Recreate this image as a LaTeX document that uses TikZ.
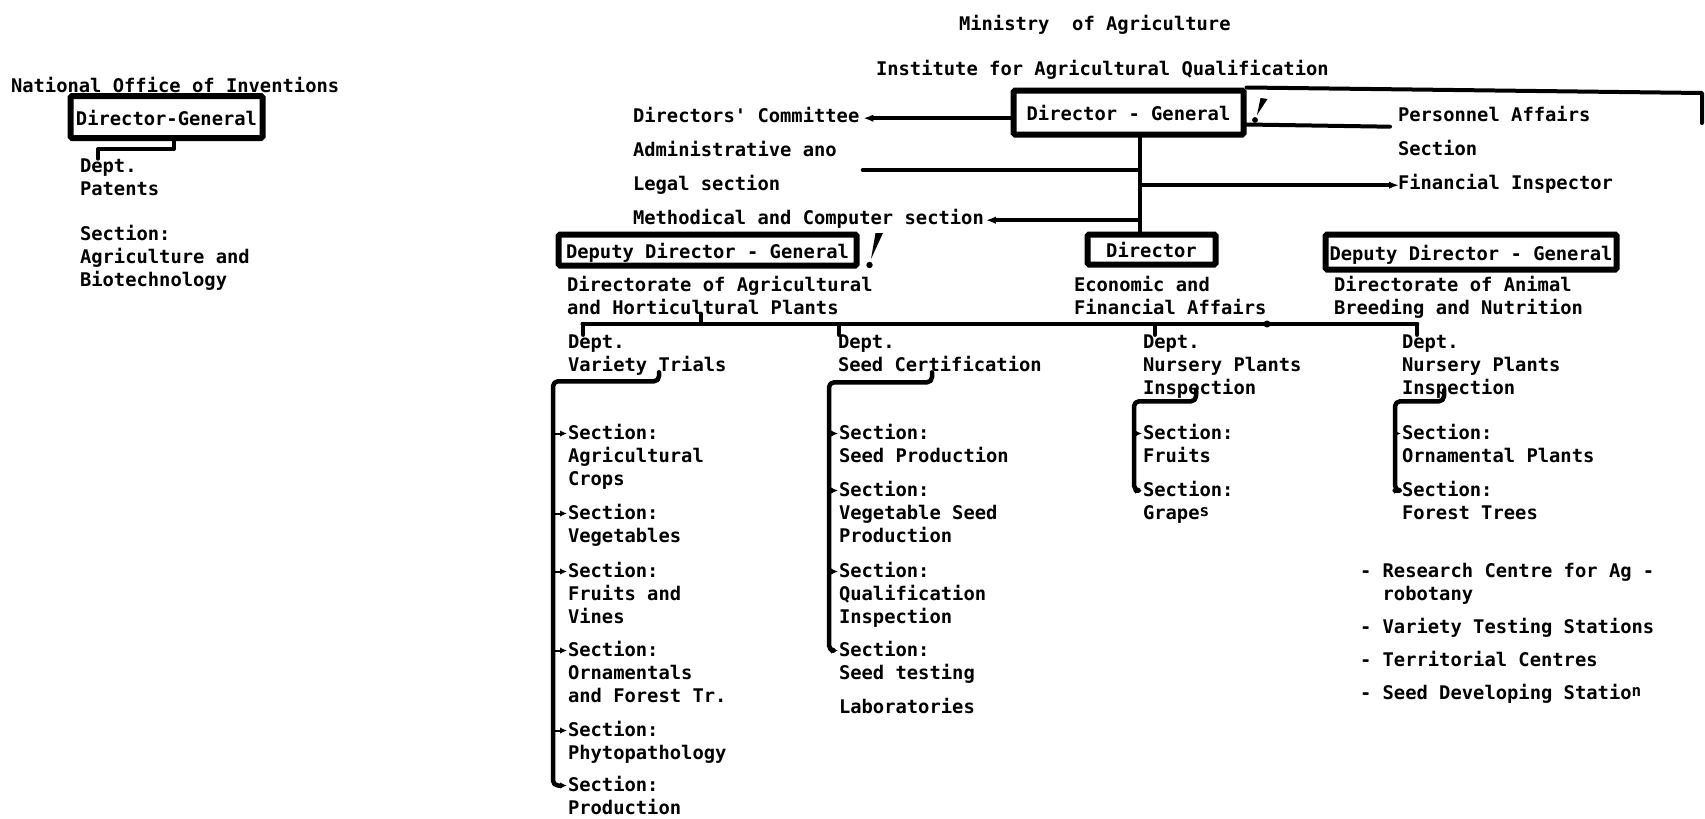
\documentclass[tikz,border=0pt]{standalone}
\usepackage{fontspec}
\newfontfamily\tw{DejaVu Sans Mono}
\usetikzlibrary{arrows.meta,calc}

\begin{document}
\begin{tikzpicture}[x=1pt,y=-1pt,
  txt/.style={anchor=north west, inner sep=0pt, outer sep=0pt, align=left,
    yshift=7.3pt, font=\tw\bfseries\fontsize{18.8}{23}\selectfont, execute at begin node=\strut},
  boxn/.style={draw, line width=6pt, inner sep=0pt, rounded corners=1.5pt,
    font=\tw\bfseries\fontsize{18.8}{23}\selectfont, text height=16pt, text depth=0pt},
  conn/.style={line width=4pt, line cap=round, line join=round},
  brk/.style={line width=4.5pt, line cap=round, line join=round},
  blob/.style={-{Latex[length=10pt,width=7.5pt]}},
  sect/.style={line width=2pt, -{Latex[length=7pt,width=6.5pt]}},
  bang/.style={fill=black}
]
\fill[white] (0,0) rectangle (1705,819);
\useasboundingbox (0,0) rectangle (1705,819);

% ---------------- National Office of Inventions ----------------
\node[txt] (noi) at (11,84) {National Office of Inventions};
\node[boxn, minimum width=192pt, minimum height=42pt] (ldg) at (166.5,117) {Director-General};
\node[txt] (pat) at (80,166) {Dept.\\Patents};
\node[txt] (agb) at (80,233) {Section:\\Agriculture and\\Biotechnology};
\draw[conn] ($(ldg.south)+(7.5,0)$) -- ++(0,8) -| ($(pat.north west)+(18,0)$);

% ---------------- Ministry / Institute ----------------
\node[txt] (min) at (959,22) {Ministry\ \ of Agriculture};
\node[txt] (inst) at (876,67) {Institute for Agricultural Qualification};

\node[boxn, minimum width=230pt, minimum height=44pt] (cdg) at (1128.5,112.5) {Director - General};
\node[txt] (dc) at (633,114) {Directors' Committee};
\node[txt] (adm) at (633,149) {Administrative ano\\[11pt]Legal section};
\node[txt] (meth) at (633,216) {Methodical and Computer section};
\node[txt] (pers) at (1398,114) {Personnel Affairs\\[11pt]Section};
\node[txt] (fin) at (1398,181) {Financial Inspector};

% exclamation mark beside the Director-General
\fill[bang] (1260.5,98) -- (1267.5,99) -- (1257,115) -- cycle;
\fill[bang] (1255,120) circle (2.9);

\node[boxn, minimum width=298pt, minimum height=31pt] (ddgl) at (707.5,250) {Deputy Director - General};
\node[boxn, minimum width=128pt, minimum height=30pt] (dir) at (1151.5,249.5) {Director};
\node[boxn, minimum width=291pt, minimum height=35pt] (ddgr) at (1471,252) {Deputy Director - General};

% exclamation mark beside the left deputy
\fill[bang] (875.5,233) -- (883,233) -- (871,259) -- cycle;
\fill[bang] (869.5,265) circle (3.2);

\node[txt] (dagr) at (567,284) {Directorate of Agricultural\\and Horticultural Plants};
\node[txt] (econ) at (1074,284) {Economic and\\Financial Affairs};
\node[txt] (danim) at (1334,284) {Directorate of Animal\\Breeding and Nutrition};

% staff lines around the Director-General
\coordinate (trunk) at (1140,0);
\coordinate (topR) at (1702,93);
\draw[conn] (trunk |- cdg.south) -- (trunk |- dir.north);
\draw[conn, blob] (cdg.west |- dc.east) -- ($(dc.east)+(4,0)$);
\draw[conn] (trunk |- adm.east) -- ($(adm.east)+(26,0)$);
\draw[conn, blob] (trunk |- meth.east) -- ($(meth.east)+(2,0)$);
\draw[conn, blob] (trunk |- fin.west) -- ($(fin.west)+(1,0)$);
\draw[conn] ($(cdg.east)+(0,12)$) -- ($(pers.north west)+(-8,20)$);
\draw[conn] (cdg.north east) -- (topR) -- ++(0,30);

% ---------------- Departments ----------------
\node[txt] (dvt) at (568,342) {Dept.\\Variety Trials};
\node[txt] (dsc) at (838,342) {Dept.\\Seed Certification};
\node[txt] (dnp) at (1143,342) {Dept.\\Nursery Plants\\Inspection};
\node[txt] (dnp2) at (1402,342) {Dept.\\Nursery Plants\\Inspection};

\coordinate (busL) at (583,324);
\coordinate (busR) at (1417,324);
\draw[brk] (busL) -- (busR);
\draw[brk] ($(dagr.south west)+(134,-8)$) -- ++(0,8.5);
\foreach \d/\dx in {dvt/15, dsc/1, dnp/12, dnp2/15}
  \draw[brk] ($(\d.north west)+(\dx,0)$) |- (busL);
\fill (1267,324) circle (3.5);

% ---------------- Sections ----------------
\node[txt] (vt1) at (568,432) {Section:\\Agricultural\\Crops};
\node[txt] (vt2) at (568,512) {Section:\\Vegetables};
\node[txt] (vt3) at (568,570) {Section:\\Fruits and\\Vines};
\node[txt] (vt4) at (568,649) {Section:\\Ornamentals\\and Forest Tr.};
\node[txt] (vt5) at (568,729) {Section:\\Phytopathology};
\node[txt] (vt6) at (568,784) {Section:\\Production};

\node[txt] (sc1) at (839,432) {Section:\\Seed Production};
\node[txt] (sc2) at (839,489) {Section:\\Vegetable Seed\\Production};
\node[txt] (sc3) at (839,570) {Section:\\Qualification\\Inspection};
\node[txt] (sc4) at (839,649) {Section:\\Seed testing\\[11pt]Laboratories};

\node[txt] (np1) at (1143,432) {Section:\\Fruits};
\node[txt] (np2) at (1143,489) {Section:\\Grape\raisebox{3pt}{\fontsize{16}{16}\selectfont s}};

\node[txt] (nr1) at (1402,432) {Section:\\Ornamental Plants};
\node[txt] (nr2) at (1402,489) {Section:\\Forest Trees};

\node[txt] (outer) at (1360,571) {- Research Centre for Ag -\\\hspace*{22.6pt}robotany\\[10pt]- Variety Testing Stations\\[10pt]- Territorial Centres\\[10pt]- Seed Developing Statio\raisebox{3pt}{\fontsize{16}{16}\selectfont n}};

\foreach \n in {vt1,vt2,vt3,vt4,vt5,vt6,sc1,sc2,sc3,sc4,np1,np2,nr1,nr2}
  \coordinate (\n-in) at ($(\n.north west)+(-1,8.8)$);

\coordinate (vtS) at ($(dvt.south west)+(-15,3)$);
\coordinate (scS) at ($(dsc.south west)+(-9,4)$);
\coordinate (npS) at ($(dnp.south west)+(-9,0)$);
\coordinate (nrS) at ($(dnp2.south west)+(-7,0)$);

\draw[brk, rounded corners=5pt, -{Latex[length=7pt,width=6.5pt]}]
  ($(dvt.south west)+(91,-6)$) |- (vtS) |- (vt6-in);
\draw[brk, rounded corners=5pt, -{Latex[length=7pt,width=6.5pt]}]
  ($(dsc.south west)+(94,-6)$) |- (scS) |- (sc4-in);
\draw[brk, rounded corners=5pt, -{Latex[length=7pt,width=6.5pt]}]
  ($(dnp.south west)+(53,-11)$) |- (npS) |- (np2-in);
\draw[brk, rounded corners=5pt, -{Latex[length=7pt,width=6.5pt]}]
  ($(dnp2.south west)+(42,-11)$) |- (nrS) |- (nr2-in);

\foreach \n in {vt1,vt2,vt3,vt4,vt5} \draw[sect] (vtS |- \n-in) -- (\n-in);
\foreach \n in {sc1,sc2,sc3} \draw[sect] (scS |- \n-in) -- (\n-in);
\draw[sect] (npS |- np1-in) -- (np1-in);
\draw[sect] (nrS |- nr1-in) -- (nr1-in);
\end{tikzpicture}
\end{document}
